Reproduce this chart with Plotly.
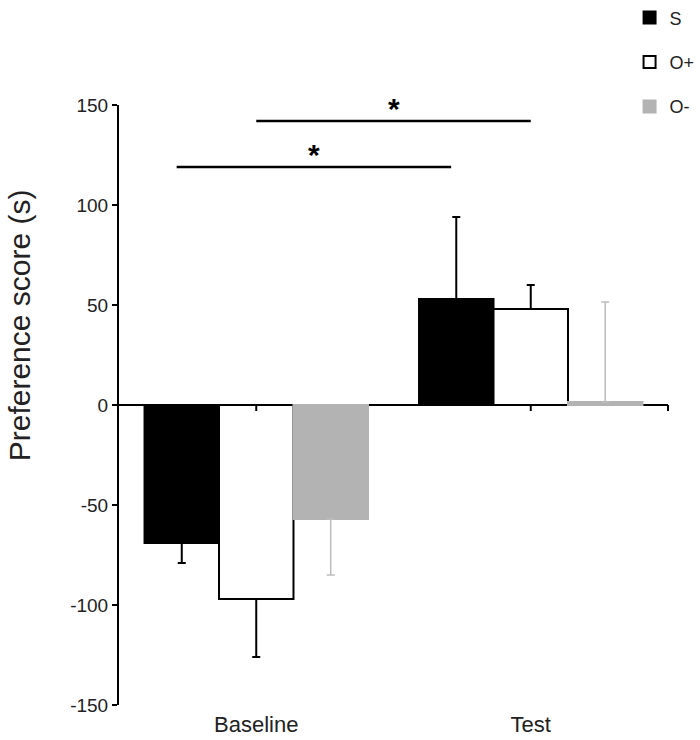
import plotly.graph_objects as go

# groups on the x axis
groups = ["Baseline", "Test"]

# series: mean preference score (s) and error (one-sided, away from zero)
s_vals = [-69, 53]
s_err = [10, 41]
opos_vals = [-97, 48]
opos_err = [29, 12]
oneg_vals = [-57, 1.5]
oneg_err = [28, 50]

# significance brackets (x in group units, y in data units)
sig_x0 = [-0.29, 0.0]
sig_x1 = [0.71, 1.0]
sig_y = [119, 142]
sig_text = ["*", "*"]

y_ticks = [-150, -100, -50, 0, 50, 100, 150]
y_labels = ["-150", "-100", "-50", "0", "50", "100", "150"]

FONT = "Liberation Sans, Arial, sans-serif"


def one_sided(vals, errs):
    up = [e if v >= 0 else 0 for v, e in zip(vals, errs)]
    down = [e if v < 0 else 0 for v, e in zip(vals, errs)]
    return up, down


def add_series(fig, name, vals, errs, fill, line, err_color, err_thick):
    up, down = one_sided(vals, errs)
    fig.add_trace(go.Bar(
        x=list(range(len(groups))), y=vals, name=name, legendgroup=name,
        marker=dict(color=fill, line=dict(color=line, width=2)),
        error_y=dict(type="data", symmetric=False, array=up, arrayminus=down,
                     color=err_color, thickness=err_thick, width=4),
    ))


fig = go.Figure()
add_series(fig, "S", s_vals, s_err, "black", "black", "black", 2)
add_series(fig, "O+", opos_vals, opos_err, "white", "black", "black", 2)
add_series(fig, "O-", oneg_vals, oneg_err, "#b3b3b3", "#b3b3b3", "#bdbdbd", 1.5)

# significance lines and stars
for x0, x1, y, t in zip(sig_x0, sig_x1, sig_y, sig_text):
    fig.add_shape(type="line", xref="x", yref="y", x0=x0, x1=x1, y0=y, y1=y,
                  line=dict(color="black", width=2.5))
    fig.add_annotation(x=(x0 + x1) / 2, y=y, text="<b>" + t + "</b>",
                       showarrow=False, yanchor="middle", yshift=13,
                       font=dict(family=FONT, size=30, color="black"))

# tick marks on the zero line (category axis crosses at 0)
for i in range(len(groups)):
    fig.add_shape(type="line", xref="x", yref="y", x0=i, x1=i, y0=0, y1=-3,
                  line=dict(color="black", width=2))
fig.add_shape(type="line", xref="paper", yref="y", x0=1, x1=1, y0=0, y1=-3,
              line=dict(color="black", width=2))

# y axis title, set higher than the plot centre as in the original
fig.add_annotation(xref="paper", yref="paper", x=-0.182, y=0.633,
                   text="Preference score (s)", textangle=-90, showarrow=False,
                   xanchor="center", yanchor="middle",
                   font=dict(family=FONT, size=30, color="#222"))

fig.update_layout(
    width=700, height=740,
    margin=dict(l=119, r=32, t=105, b=35, autoexpand=False),
    plot_bgcolor="white", paper_bgcolor="white",
    barmode="group", bargap=0.186, bargroupgap=0,
    font=dict(family=FONT, color="#222"),
    legend=dict(x=0.93, xanchor="left", y=1.176, yanchor="top",
                font=dict(size=18, color="#222"), tracegroupgap=18,
                bgcolor="rgba(0,0,0,0)"),
)
fig.update_xaxes(
    range=[-0.5, len(groups) - 0.5], tickvals=list(range(len(groups))),
    ticktext=groups, showline=False, showgrid=False, zeroline=False,
    ticks="", tickfont=dict(size=22, color="#222"), ticklabelstandoff=4,
)
fig.update_yaxes(
    range=[-150, 150], tickvals=y_ticks, ticktext=y_labels, showline=True,
    linecolor="black", linewidth=2, ticks="outside", ticklen=5, tickwidth=2,
    tickcolor="black", showgrid=False, zeroline=True, zerolinecolor="black",
    zerolinewidth=2, tickfont=dict(size=19, color="#222"),
)

# drop the browser's default page margin so the figure sits at 0,0
fig.write_html("out.html", config={"displayModeBar": False},
               post_script="document.body.style.margin='0';")
